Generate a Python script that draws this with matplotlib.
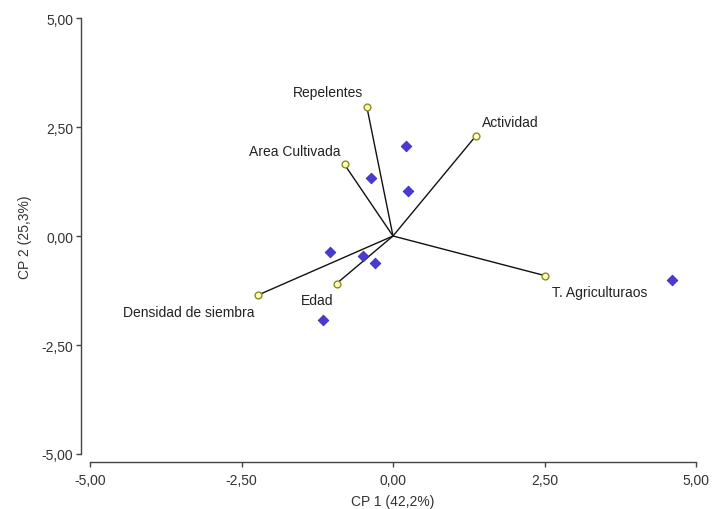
import numpy as np
import matplotlib
matplotlib.use("Agg")
import matplotlib.pyplot as plt
from matplotlib.ticker import FuncFormatter

plt.rcParams["font.family"] = ["Liberation Sans", "DejaVu Sans"]

# variable loadings (vector ends)
var_names = ["Repelentes", "Actividad", "Area Cultivada", "T. Agriculturaos",
             "Densidad de siembra", "Edad"]
var_x = [-0.43, 1.37, -0.80, 2.51, -2.22, -0.93]
var_y = [2.95, 2.30, 1.64, -0.91, -1.35, -1.09]

# observation scores
obs_x = [0.21, -0.37, 0.25, -1.04, -0.50, -0.29, -1.16, 4.60]
obs_y = [2.06, 1.34, 1.04, -0.37, -0.47, -0.61, -1.92, -1.00]

ticks = [-5.0, -2.5, 0.0, 2.5, 5.0]

# label placement: (dx, dy) offset in points, ha, va
label_pos = {
    "Repelentes": (-3, 6, "right", "bottom"),
    "Actividad": (4, 5, "left", "bottom"),
    "Area Cultivada": (-3, 5, "right", "bottom"),
    "T. Agriculturaos": (5, -7, "left", "top"),
    "Densidad de siembra": (-3, -7, "right", "top"),
    "Edad": (-26, -7, "left", "top"),
}

W, H = 712, 510
fig = plt.figure(figsize=(W / 100, H / 100), dpi=100)
ax = fig.add_axes([90 / W, 1 - 455 / H, (696 - 90) / W, (455 - 19) / H])

for name, x, y in zip(var_names, var_x, var_y):
    ax.plot([0, x], [0, y], color="#111111", lw=1.0, zorder=2)
ax.scatter(var_x, var_y, s=24, marker="o", facecolor="#ffffc0",
           edgecolor="#8a8a20", linewidths=1.0, zorder=4)
ax.scatter(obs_x, obs_y, s=30, marker="D", color="#4a3ad0",
           edgecolor="#3322bb", linewidths=0.5, zorder=3)

for name, x, y in zip(var_names, var_x, var_y):
    dx, dy, ha, va = label_pos[name]
    ax.annotate(name, (x, y), xytext=(dx, dy), textcoords="offset points",
                ha=ha, va=va, fontsize=10, color="#222222")

ax.set_xlim(-5, 5)
ax.set_ylim(-5, 5)
ax.set_xticks(ticks)
ax.set_yticks(ticks)
fmt = FuncFormatter(lambda v, p: f"{v:.2f}".replace(".", ","))
ax.xaxis.set_major_formatter(fmt)
ax.yaxis.set_major_formatter(fmt)

for side in ["top", "right"]:
    ax.spines[side].set_visible(False)
ax.spines["left"].set_position(("outward", 6.5))
ax.spines["bottom"].set_position(("outward", 5.8))
for side in ["left", "bottom"]:
    ax.spines[side].set_color("#444444")
    ax.spines[side].set_linewidth(1.0)
ax.tick_params(direction="out", length=3.6, width=1, colors="#444444",
               labelsize=10, labelcolor="#333333", pad=2)
ax.tick_params(axis="x", pad=4)

ax.set_xlabel("CP 1 (42,2%)", fontsize=10, color="#333333", labelpad=5)
ax.set_ylabel("CP 2 (25,3%)", fontsize=10, color="#333333", labelpad=7)

fig.savefig("out.png", dpi=100)
